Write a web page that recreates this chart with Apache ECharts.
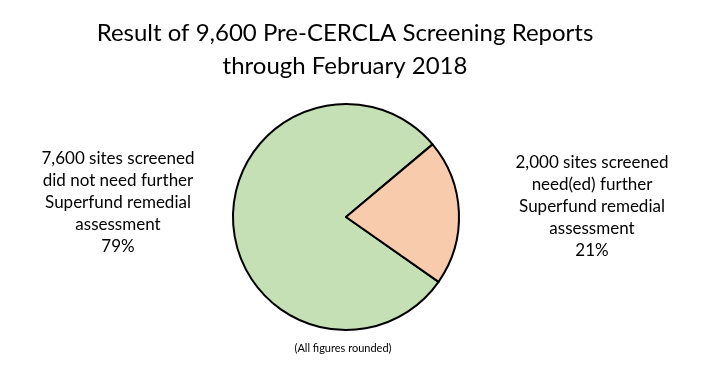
<!DOCTYPE html>
<html>
<head>
<meta charset="utf-8">
<script src="https://cdn.jsdelivr.net/npm/echarts@6/dist/echarts.min.js"></script>
<style>
  html, body { margin: 0; padding: 0; background: #fff; }
  #chart { width: 703px; height: 376px; }
</style>
</head>
<body>
<div id="chart"></div>
<script>
var categories = ['did not need further\nSuperfund remedial\nassessment', 'need(ed) further\nSuperfund remedial\nassessment'];
var siteCounts = [7600, 2000];
var sliceColors = ['#c5e0b4', '#f8cbad'];
var labelSpots = [[118, 203], [592, 207]];

var chart = echarts.init(document.getElementById('chart'));

var data = [];
for (var i = 0; i < categories.length; ++i) {
    data.push({
        name: categories[i],
        value: siteCounts[i],
        itemStyle: { color: sliceColors[i] }
    });
}

chart.setOption({
    animation: false,
    textStyle: { fontFamily: 'Lato' },
    graphic: [{
        type: 'text',
        x: 345,
        y: 17,
        style: {
            text: 'Result of 9,600 Pre-CERCLA Screening Reports\nthrough February 2018',
            align: 'center',
            verticalAlign: 'top',
            fontFamily: 'Lato',
            fontSize: 24,
            lineHeight: 33,
            fill: '#000'
        }
    }, {
        type: 'text',
        x: 343,
        y: 343,
        style: {
            text: '(All figures rounded)',
            align: 'center',
            verticalAlign: 'top',
            fontFamily: 'Lato',
            fontSize: 11,
            fill: '#000'
        }
    }],
    series: [{
        type: 'pie',
        center: [346, 217],
        radius: 113,
        startAngle: -35,
        clockwise: true,
        silent: true,
        itemStyle: {
            borderColor: '#000',
            borderWidth: 2
        },
        label: {
            show: true,
            formatter: function (p) {
                return echarts.format.addCommas(p.value) + ' sites screened\n' + p.name + '\n' + Math.round(p.percent) + '%';
            },
            fontFamily: 'Lato',
            fontSize: 17,
            lineHeight: 22,
            color: '#000',
            align: 'center'
        },
        labelLine: { show: false },
        labelLayout: function (params) {
            var spot = labelSpots[params.dataIndex];
            return {
                x: spot[0],
                y: spot[1],
                align: 'center',
                verticalAlign: 'middle',
                hideOverlap: false
            };
        },
        data: data
    }]
});
</script>
</body>
</html>
